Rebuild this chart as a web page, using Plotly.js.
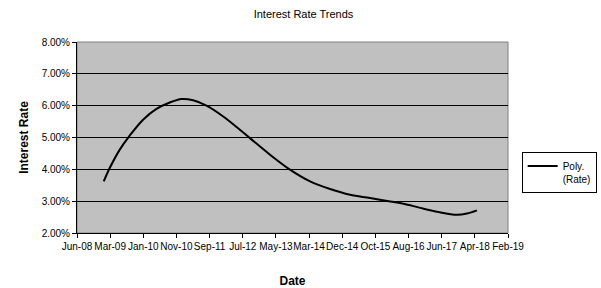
<!DOCTYPE html>
<html>
<head>
<meta charset="utf-8">
<script src="https://cdn.plot.ly/plotly-3.0.1.min.js"></script>
<style>html,body{margin:0;padding:0;background:#fff;}#chart{width:601px;height:288px;}</style>
</head>
<body>
<div id="chart"></div>
<script>
var dates = ['2009-01-29','2009-03-24','2009-06-23','2009-09-21','2010-01-20','2010-05-21','2010-09-19','2011-01-03','2011-04-18','2011-08-17','2012-01-15','2012-05-15','2012-09-13','2013-03-13','2013-09-10','2014-03-11','2014-09-08','2015-03-08','2015-09-05','2016-03-05','2016-07-04','2016-12-02','2017-05-02','2017-10-30','2018-01-28','2018-04-29'];
var rates = [3.62,4.04,4.62,5.06,5.56,5.90,6.10,6.21,6.17,6.00,5.66,5.33,4.98,4.46,3.99,3.62,3.38,3.20,3.10,2.99,2.92,2.79,2.67,2.57,2.61,2.71];
var seriesName = 'Poly.<br>(Rate)';
var chartTitle = 'Interest Rate Trends';
var xTitle = 'Date';
var yTitle = 'Interest Rate';

var DAY = 86400000;
var trace = {
  x: dates, y: rates, type: 'scatter', mode: 'lines', name: seriesName,
  line: {color: '#000000', width: 2, shape: 'spline', smoothing: 1},
  showlegend: true
};
var layout = {
  width: 601, height: 288,
  margin: {l: 77, r: 93, t: 42, b: 55},
  paper_bgcolor: '#ffffff', plot_bgcolor: '#c0c0c0',
  font: {family: 'Liberation Sans, Arial, sans-serif', size: 10, color: '#000'},
  title: {text: chartTitle, x: 0.505, xanchor: 'center', y: 0.952, yanchor: 'middle', font: {size: 11, color: '#000'}},
  xaxis: {
    type: 'date', range: ['2008-06-01', '2019-02-04'],
    tick0: '2008-06-01', dtick: 300 * DAY, tickformat: '%b-%y', tickangle: 0,
    ticks: 'outside', ticklen: 4, tickcolor: '#000', showgrid: false,
    showline: true, linecolor: '#000', linewidth: 1, zeroline: false,
    tickfont: {size: 10},
    title: {text: xTitle, font: {size: 12, color: '#000', weight: 'bold'}, standoff: 25}
  },
  yaxis: {
    range: [2, 8], tick0: 2, dtick: 1, tickformat: '.2f', ticksuffix: '%',
    ticks: 'outside', ticklen: 4, tickcolor: '#000',
    showgrid: true, gridcolor: '#000', gridwidth: 1,
    showline: true, linecolor: '#000', linewidth: 1, zeroline: false,
    tickfont: {size: 10},
    title: {text: yTitle, font: {size: 12, color: '#000', weight: 'bold'}, standoff: 10}
  },
  legend: {
    xref: 'container', yref: 'container',
    x: 0.868, xanchor: 'left', y: 0.472, yanchor: 'top',
    bordercolor: '#000', borderwidth: 1, bgcolor: '#fff',
    font: {size: 10}, itemwidth: 30, valign: 'top'
  },
  shapes: [{type: 'rect', xref: 'paper', yref: 'paper', x0: 0, x1: 1, y0: 0, y1: 1, line: {color: '#808080', width: 1}, layer: 'below'}]
};
Plotly.newPlot('chart', [trace], layout, {displayModeBar: false, staticPlot: true});
</script>
</body>
</html>
